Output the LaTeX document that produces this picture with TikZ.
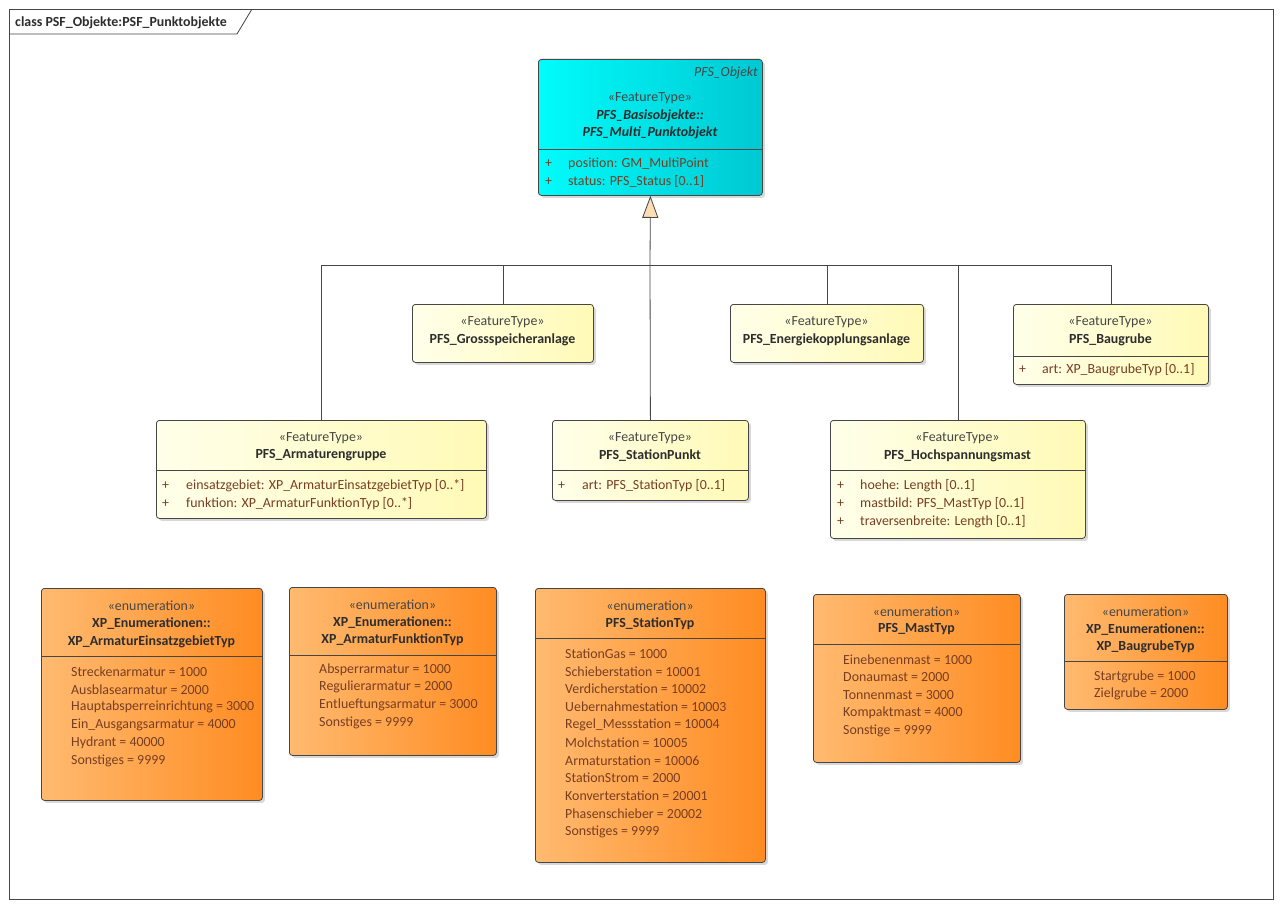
\documentclass[tikz,border=0pt]{standalone}
\usepackage{fontspec}
\setmainfont{Carlito}
\usetikzlibrary{arrows.meta,shadows}
\definecolor{attrtext}{RGB}{120,62,34}
\definecolor{nametext}{RGB}{45,45,45}
\definecolor{stereotext}{RGB}{70,70,70}
\definecolor{cyanleft}{RGB}{0,252,252}
\definecolor{cyanright}{RGB}{0,200,210}
\definecolor{featleft}{RGB}{255,255,234}
\definecolor{featright}{RGB}{255,250,182}
\definecolor{enumleft}{RGB}{255,186,112}
\definecolor{enumright}{RGB}{255,140,34}
\definecolor{peach}{RGB}{252,222,180}
\definecolor{framegray}{RGB}{70,70,70}
\newcommand{\umlfont}{\fontsize{13.9}{16}\selectfont}
\tikzstyle{classbox}=[draw=framegray, line width=0.8pt, rounded corners=3pt, anchor=north west, inner sep=0pt, drop shadow={opacity=0.3, shadow xshift=2.5pt, shadow yshift=-2.5pt}]
\tikzstyle{basebox}=[classbox, left color=cyanleft, right color=cyanright]
\tikzstyle{featbox}=[classbox, left color=featleft, right color=featright]
\tikzstyle{enumbox}=[classbox, left color=enumleft, right color=enumright]
\tikzstyle{stereo}=[inner sep=0pt, yshift=-1.5pt, text=stereotext, font=\umlfont]
\tikzstyle{cname}=[inner sep=0pt, yshift=-1.5pt, text=nametext, font=\umlfont\bfseries]
\tikzstyle{cnameit}=[inner sep=0pt, yshift=-1.5pt, text=nametext, font=\umlfont\bfseries\itshape]
\tikzstyle{attr}=[inner sep=0pt, yshift=-1.5pt, anchor=west, text=attrtext, font=\umlfont]
\tikzstyle{sep}=[draw=framegray, line width=0.8pt]
\tikzstyle{gen}=[draw=framegray, line width=0.8pt]

\begin{document}
\begin{tikzpicture}[x=1pt, y=-1pt]
\useasboundingbox (0,0) rectangle (1281,907);
\fill[white] (0,0) rectangle (1281,907);
% frame
\draw[sep] (9,9) rectangle (1273,899);
\draw[sep] (9,34) -- (237,34) -- (252,9);
\node[cname, anchor=west] (title) at (15,21) {class PSF\_Objekte:PSF\_Punktobjekte};

% base class
\node[basebox, minimum width=224, minimum height=136] (base) at (538,59) {};
\node[stereo, anchor=east, font=\umlfont\itshape] (baseabs) at (758,71) {PFS\_Objekt};
\node[stereo] (basest) at (650,97) {«FeatureType»};
\node[cnameit] (basen1) at (650,114) {PFS\_Basisobjekte::};
\node[cnameit] (basen2) at (650,131) {PFS\_Multi\_Punktobjekt};
\draw[sep] (538,149) -- (762,149);
\foreach \y/\txt [count=\i] in {162/position: GM\_MultiPoint, 180/status: PFS\_Status [0..1]}{
  \node[attr] (basep\i) at (545,\y) {+};
  \node[attr] (basea\i) at (568,\y) {\txt};
}

% feature types
\foreach \place/\w/\h/\name in {{(412,304)/181/58/gross},
                                {(730,304)/193/58/energ},
                                {(1013,304)/195/80/baug},
                                {(156,420)/330/98/armat},
                                {(552,420)/196/80/station},
                                {(830,420)/255/118/hoch}}
  \node[featbox, minimum width=\w, minimum height=\h] (\name) at \place {};
\foreach \x/\y/\txt/\name in {502.5/304/PFS\_Grossspeicheranlage/gross,
                              826.5/304/PFS\_Energiekopplungsanlage/energ,
                              1110.5/304/PFS\_Baugrube/baug,
                              321/420/PFS\_Armaturengruppe/armat,
                              650/420/PFS\_StationPunkt/station,
                              957.5/420/PFS\_Hochspannungsmast/hoch}{
  \node[stereo] (\name st) at (\x,\y+17) {«FeatureType»};
  \node[cname] (\name n) at (\x,\y+34) {\txt};
}
\draw[sep] (1013,356) -- (1208,356);
\node[attr] (baugp) at (1019,368) {+};
\node[attr] (bauga) at (1042,368) {art: XP\_BaugrubeTyp [0..1]};
\draw[sep] (156,470) -- (486,470);
\foreach \y/\txt [count=\i] in {484/einsatzgebiet: XP\_ArmaturEinsatzgebietTyp [0..*],
                                502/funktion: XP\_ArmaturFunktionTyp [0..*]}{
  \node[attr] (armatp\i) at (162,\y) {+};
  \node[attr] (armata\i) at (186,\y) {\txt};
}
\draw[sep] (552,470) -- (748,470);
\node[attr] (stationp) at (558,484) {+};
\node[attr] (stationa) at (582,484) {art: PFS\_StationTyp [0..1]};
\draw[sep] (830,470) -- (1085,470);
\foreach \y/\txt [count=\i] in {484/hoehe: Length [0..1],
                                502/mastbild: PFS\_MastTyp [0..1],
                                520/traversenbreite: Length [0..1]}{
  \node[attr] (hochp\i) at (837,\y) {+};
  \node[attr] (hocha\i) at (860,\y) {\txt};
}

% generalization tree
\coordinate (jn) at (650,265);
\draw[gen, -{Triangle[width=16pt, length=22pt, fill=peach]}] (jn) -- (base.south);
\foreach \name in {armat,gross,energ,hoch,baug}
  \draw[gen] (\name.north) |- (jn);
\draw[gen] (station.north) -- (jn);

% enumerations
\foreach \place/\w/\h/\name in {{(41,588)/221/212/eeg},
                                {(289,587)/207/168/efn},
                                {(535,588)/230/274/est},
                                {(813,594)/207/168/emt},
                                {(1064,594)/163/115/ebg}}
  \node[enumbox, minimum width=\w, minimum height=\h] (\name) at \place {};

\node[stereo] (eegst) at (151.5,604) {«enumeration»};
\node[cname] (eegn1) at (151.5,622) {XP\_Enumerationen::};
\node[cname] (eegn2) at (151.5,640) {XP\_ArmaturEinsatzgebietTyp};
\draw[sep] (41,656) -- (262,656);
\foreach \lit [count=\i from 0] in {Streckenarmatur = 1000, Ausblasearmatur = 2000,
    Hauptabsperreinrichtung = 3000, Ein\_Ausgangsarmatur = 4000,
    Hydrant = 40000, Sonstiges = 9999}
  \node[attr] (eegl\i) at (71,670+17.8*\i) {\lit};

\node[stereo] (efnst) at (392.5,603) {«enumeration»};
\node[cname] (efnn1) at (392.5,621) {XP\_Enumerationen::};
\node[cname] (efnn2) at (392.5,638) {XP\_ArmaturFunktionTyp};
\draw[sep] (289,655) -- (496,655);
\foreach \lit [count=\i from 0] in {Absperrarmatur = 1000, Regulierarmatur = 2000,
    Entlueftungsarmatur = 3000, Sonstiges = 9999}
  \node[attr] (efnl\i) at (319,668+17.8*\i) {\lit};

\node[stereo] (estst) at (650,604) {«enumeration»};
\node[cname] (estn) at (650,622) {PFS\_StationTyp};
\draw[sep] (535,638) -- (765,638);
\foreach \lit [count=\i from 0] in {StationGas = 1000, Schieberstation = 10001,
    Verdicherstation = 10002, Uebernahmestation = 10003,
    Regel\_Messstation = 10004, Molchstation = 10005,
    Armaturstation = 10006, StationStrom = 2000,
    Konverterstation = 20001, Phasenschieber = 20002, Sonstiges = 9999}
  \node[attr] (estl\i) at (565,652+17.8*\i) {\lit};

\node[stereo] (emtst) at (916.5,610) {«enumeration»};
\node[cname] (emtn) at (916.5,628) {PFS\_MastTyp};
\draw[sep] (813,644) -- (1020,644);
\foreach \lit [count=\i from 0] in {Einebenenmast = 1000, Donaumast = 2000,
    Tonnenmast = 3000, Kompaktmast = 4000, Sonstige = 9999}
  \node[attr] (emtl\i) at (843,658+17.8*\i) {\lit};

\node[stereo] (ebgst) at (1145.5,610) {«enumeration»};
\node[cname] (ebgn1) at (1145.5,628) {XP\_Enumerationen::};
\node[cname] (ebgn2) at (1145.5,645) {XP\_BaugrubeTyp};
\draw[sep] (1064,661) -- (1227,661);
\foreach \lit [count=\i from 0] in {Startgrube = 1000, Zielgrube = 2000}
  \node[attr] (ebgl\i) at (1094,675+17.8*\i) {\lit};
\end{tikzpicture}
\end{document}
